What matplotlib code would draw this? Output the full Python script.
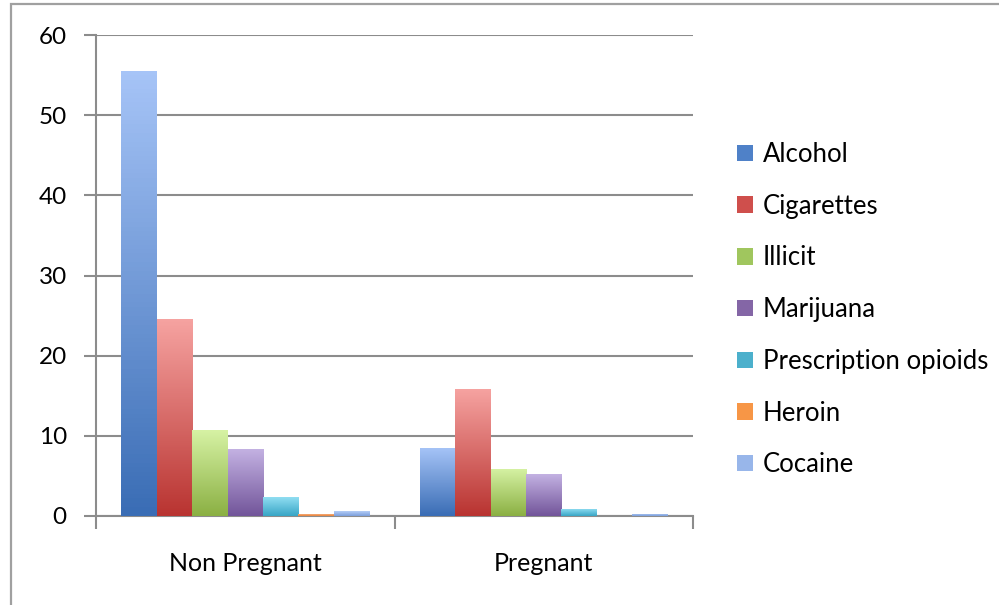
import numpy as np
import matplotlib
matplotlib.use("Agg")
import matplotlib.pyplot as plt
from matplotlib.colors import LinearSegmentedColormap
from matplotlib.patches import Rectangle

plt.rcParams['font.family'] = ['Lato', 'DejaVu Sans']

# data
groups = ["Non Pregnant", "Pregnant"]
substances = ["Alcohol", "Cigarettes", "Illicit", "Marijuana",
              "Prescription opioids", "Heroin", "Cocaine"]
non_pregnant = [55.5, 24.6, 10.7, 8.3, 2.4, 0.3, 0.6]
pregnant = [8.5, 15.9, 5.9, 5.2, 0.9, 0.05, 0.25]

# (top colour, bottom colour) for the gradient fill, plus legend colour
grad = [("#a6c4f7", "#3a6db5"),
        ("#f6a3a1", "#b93431"),
        ("#d6f2a4", "#8bb043"),
        ("#c3b1e2", "#72559a"),
        ("#95e0f4", "#38a6c6"),
        ("#fbc298", "#e8813a"),
        ("#b4cdf6", "#7c9fdc")]
legend_cols = ["#4f81c8", "#cf4f4c", "#a0c65e", "#8466a6", "#4cb0cc", "#f79646", "#98b6ea"]

fig = plt.figure(figsize=(9.99, 6.05), dpi=100)
ax = fig.add_axes([96/999, 1-516/605, (693-96)/999, (516-35)/605])

# grey frame round the chart
fig.patches.append(Rectangle((11/999, -0.05), 1.1, 1-4/605+0.05, transform=fig.transFigure,
                             fill=False, edgecolor="#a0a0a0", linewidth=1.6, zorder=0))

n = len(substances)
x = np.arange(len(groups))
w = 0.83 / n
vals = np.array([non_pregnant, pregnant])

for i in range(n):
    bars = ax.bar(x - 0.415 + w*(i + 0.5), vals[:, i], width=w, color="none",
                  label=substances[i], zorder=2, linewidth=0)
    cmap = LinearSegmentedColormap.from_list("g%d" % i, [grad[i][1], grad[i][0]])
    for b in bars:
        bx, by = b.get_x(), b.get_y()
        bw, bh = b.get_width(), b.get_height()
        img = np.linspace(0, 1, 100).reshape(-1, 1)
        im = ax.imshow(img, cmap=cmap, origin="lower", aspect="auto",
                       extent=[bx, bx+bw, by, by+bh], zorder=3)
        im.set_clip_path(b)

ax.set_xlim(-0.5, 1.5)
ax.set_ylim(0, 60)
ax.set_yticks(np.arange(0, 61, 10))
ax.set_xticks([-0.5, 0.5, 1.5])
ax.set_xticklabels([])
ax.set_xticks(x, minor=True)
ax.set_xticklabels(groups, minor=True, fontsize=18)
ax.tick_params(axis="x", which="minor", length=0, pad=26)
ax.tick_params(axis="x", which="major", length=9, width=1.5, color="#8c8c8c", direction="out")
ax.tick_params(axis="y", length=9, width=1.5, color="#8c8c8c", labelsize=17.5, pad=12)
ax.yaxis.grid(True, color="#8c8c8c", linewidth=1.5, zorder=0)
ax.set_axisbelow(True)
for s in ["top", "right"]:
    ax.spines[s].set_visible(False)
for s in ["left", "bottom"]:
    ax.spines[s].set_color("#8c8c8c")
    ax.spines[s].set_linewidth(1.5)

handles = [Rectangle((0, 0), 1, 1, facecolor=c, edgecolor="none") for c in legend_cols]
ax.legend(handles, substances, loc="center left", bbox_to_anchor=(1.057, 0.429),
          frameon=False, fontsize=18.5, handlelength=0.6, handleheight=0.6,
          handletextpad=0.4, labelspacing=1.04, borderaxespad=0)

fig.savefig("out.png", dpi=100)
